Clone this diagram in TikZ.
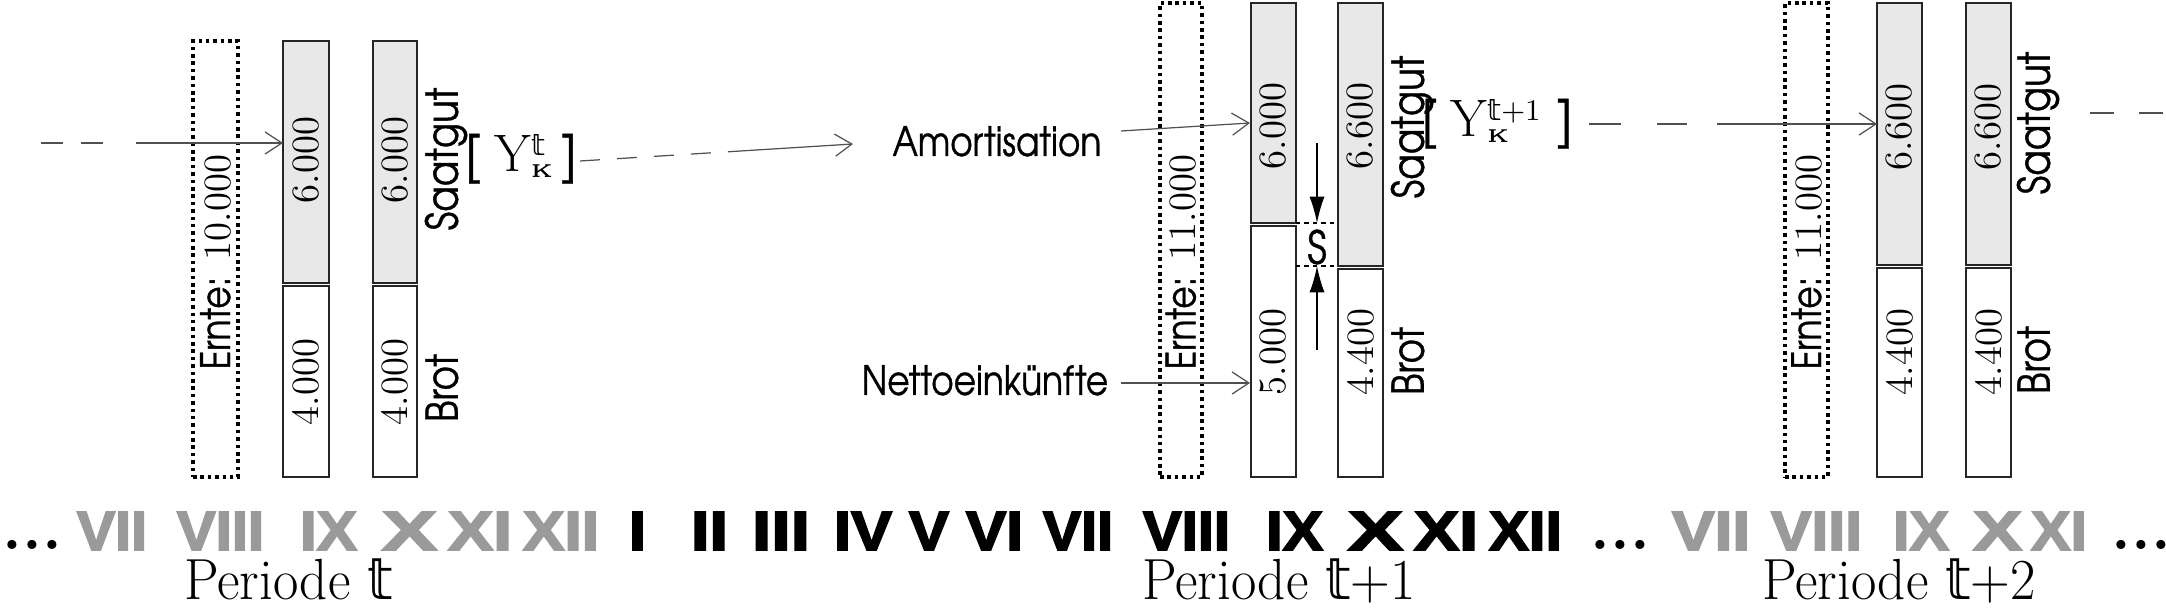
\documentclass[tikz,border=0pt]{standalone}
\usepackage{fontspec}
\usepackage{graphicx}
\usetikzlibrary{arrows.meta}
\newfontfamily\gothic{TeX Gyre Adventor}[FakeStretch=0.85, FakeBold=0.8]
\newfontfamily\dsfont{DejaVu Sans}
\newfontfamily\romnumfont{Liberation Sans}[BoldFeatures={FakeBold=3}]
\definecolor{barfill}{HTML}{E8E8E8}
\definecolor{numgray}{HTML}{9A9A9A}
\definecolor{flowgray}{HTML}{505050}
\newcommand{\dt}{{\dsfont 𝕥}}
\newcommand{\sidetext}[1]{{\gothic\fontsize{12.5}{15}\selectfont\vphantom{Sg}#1}}
\newcommand{\barcell}[6]{\node[#6, inner sep=0pt, outer sep=0pt, minimum width={(#4-#2)*0.01cm}, minimum height={(#5-#3)*0.01cm}] (#1) at ({(#2+#4)/2},{(#3+#5)/2}) {};}
\newcommand{\romn}[5]{\node[inner sep=0pt, text=#5] (#1) at (#3,531) {\resizebox{#4cm}{0.38cm}{\romnumfont\bfseries #2}};}
\begin{document}
\begin{tikzpicture}[x=0.01cm,y=-0.01cm,
  seedcell/.style={draw=black!85, line width=0.55pt, fill=barfill},
  breadcell/.style={draw=black!85, line width=0.55pt, fill=white},
  harvest/.style={draw=black, line width=1pt, dash pattern=on 1pt off 1.1pt},
  amount/.style={rotate=90, inner sep=0pt, font=\fontsize{11}{13}\selectfont},
  sidelab/.style={rotate=90, inner sep=0pt, font=\fontsize{11}{13}\selectfont},
  sanslab/.style={inner sep=0pt, anchor=base, font=\gothic\fontsize{11.5}{13}\selectfont},
  flow/.style={draw=flowgray, line width=0.35pt, -{Straight Barb[length=4.8pt,width=6.3pt]}},
  flowtail/.style={draw=flowgray, line width=0.35pt},
  sflow/.style={draw=black, line width=0.4pt, -{Latex[length=7.5pt,width=4.3pt]}},
  sline/.style={draw=black, line width=0.4pt, dash pattern=on 1.2pt off 1.2pt},
  periodlab/.style={inner sep=0pt, anchor=base, font=\fontsize{16.5}{19}\selectfont},
  dotrow/.style={inner sep=0pt, anchor=base west, font=\fontsize{18}{20}\selectfont\bfseries},
]
\useasboundingbox (0,0) rectangle (2166,610);

% ---------- harvest boxes ----------
\barcell{E1}{193}{41}{238}{477}{harvest}
\barcell{E2}{1160}{3}{1202}{477}{harvest}
\barcell{E3}{1785}{3}{1828}{477}{harvest}
\node[amount] (E1lab) at (215.5,262) {{\gothic\fontsize{11.5}{13}\selectfont Ernte:} 10.000};
\node[amount] (E2lab) at (1181,262) {{\gothic\fontsize{11.5}{13}\selectfont Ernte:} 11.000};
\node[amount] (E3lab) at (1806.5,262) {{\gothic\fontsize{11.5}{13}\selectfont Ernte:} 11.000};

% ---------- bars period t ----------
\barcell{a1}{283}{41}{329}{283}{seedcell}
\barcell{a2}{283}{286}{329}{477}{breadcell}
\barcell{b1}{373}{41}{417}{283}{seedcell}
\barcell{b2}{373}{286}{417}{477}{breadcell}
% ---------- bars period t+1 ----------
\barcell{c1}{1251}{3}{1296}{223}{seedcell}
\barcell{c2}{1251}{226}{1296}{477}{breadcell}
\barcell{d1}{1338}{3}{1383}{266}{seedcell}
\barcell{d2}{1338}{269}{1383}{477}{breadcell}
% ---------- bars period t+2 ----------
\barcell{e1}{1877}{3}{1922}{265}{seedcell}
\barcell{e2}{1877}{268}{1922}{477}{breadcell}
\barcell{f1}{1966}{3}{2011}{265}{seedcell}
\barcell{f2}{1966}{268}{2011}{477}{breadcell}

% amounts
\node[amount] (a1lab) at (306,160) {6.000};
\node[amount] (a2lab) at (306,382) {4.000};
\node[amount] (b1lab) at (395,160) {6.000};
\node[amount] (b2lab) at (395,382) {4.000};
\node[amount] (c1lab) at (1273.5,126) {6.000};
\node[amount] (c2lab) at (1273.5,352) {5.000};
\node[amount] (d1lab) at (1360.5,126) {6.600};
\node[amount] (d2lab) at (1360.5,352) {4.400};
\node[amount] (e1lab) at (1899.5,127) {6.600};
\node[amount] (e2lab) at (1899.5,352) {4.400};
\node[amount] (f1lab) at (1988.5,127) {6.600};
\node[amount] (f2lab) at (1988.5,352) {4.400};

% side labels
\node[sidelab] (saat1) at (446,159) {\sidetext{Saatgut}};
\node[sidelab] (brot1) at (446,388) {\sidetext{Brot}};
\node[sidelab] (saat2) at (1412,127) {\sidetext{Saatgut}};
\node[sidelab] (brot2) at (1412,361) {\sidetext{Brot}};
\node[sidelab] (saat3) at (2038,123) {\sidetext{Saatgut}};
\node[sidelab] (brot3) at (2038,360) {\sidetext{Brot}};

% capital stock labels
\node[inner sep=0pt, anchor=base] (Yt) at (521,172) {\fontsize{15}{17}\selectfont\gothic[\hspace{0.25em}\rmfamily Y\rlap{\raisebox{-1.5pt}{\fontsize{5.3}{6}\selectfont\bfseries K}}\raisebox{4.8pt}{\fontsize{8.5}{9}\selectfont\dt}\hspace{0.3em}\gothic]};
\node[inner sep=0pt, anchor=base] (Yt1) at (1497,137) {\fontsize{15}{17}\selectfont\gothic[\hspace{0.25em}\rmfamily Y\rlap{\raisebox{-1.5pt}{\fontsize{5.3}{6}\selectfont\bfseries K}}\raisebox{4.8pt}{\fontsize{8.5}{9}\selectfont\dt\rmfamily+1}\hspace{0.3em}\gothic]};

% text labels
\node[sanslab] (amort) at (997,156) {Amortisation};
\node[sanslab] (netto) at (985,395) {Nettoeinkünfte};
\node[inner sep=0pt] (S) at (1317,247) {\gothic\fontsize{13}{15}\selectfont S};

% S box lines
\draw[sline] (c1.south east) -- (d1.west |- c1.south east);
\draw[sline] (c2.east |- d1.south west) -- (d1.south west);

% flows
\coordinate (L0) at (41,143);
\draw[flow, dash pattern=on 0.22cm off 0.18cm on 0.22cm off 0.33cm on 4cm] (L0) -- (L0 -| a1.west);
\coordinate (Y0) at (580,161);
\coordinate (Y1) at (853,144);
\draw[flow, dash pattern=on 0.2cm off 0.17cm on 0.2cm off 0.17cm on 0.2cm off 0.17cm on 0.2cm off 0.17cm on 4cm] (Y0) -- (Y1);
\coordinate (A0) at (1121,131);
\coordinate (A1) at (1250,123);
\draw[flow] (A0) -- (A1);
\coordinate (N0) at (1121,383);
\coordinate (N1) at (1250,383);
\draw[flow] (N0) -- (N1);
\coordinate (Z0) at (1589,124);
\draw[flow, dash pattern=on 0.32cm off 0.36cm on 0.3cm off 0.3cm on 4cm] (Z0) -- (Z0 -| e1.west);
\coordinate (R0) at (2090,113);
\coordinate (R1) at (2166,113);
\draw[flowtail, dash pattern=on 0.24cm off 0.25cm] (R0) -- (R1);
\coordinate (SD0) at (1317,143);
\coordinate (SU0) at (1317,350);
\draw[sflow] (SD0) -- (SD0 |- c1.south east);
\draw[sflow] (SU0) -- (SU0 |- d1.south west);

% ---------- month row ----------
\node[dotrow] (dotsA) at (2,550) {...};
\romn{gA}{VII}{112}{0.70}{numgray}
\romn{gB}{VIII}{220.5}{0.87}{numgray}
\romn{gC}{IX}{328.5}{0.57}{numgray}
\romn{gD}{X}{409.5}{0.55}{numgray}
\romn{gE}{XI}{480}{0.64}{numgray}
\romn{gF}{XII}{561}{0.76}{numgray}
\romn{kA}{I}{637.5}{0.17}{black}
\romn{kB}{II}{709.5}{0.37}{black}
\romn{kC}{III}{781}{0.58}{black}
\romn{kD}{IV}{863}{0.58}{black}
\romn{kE}{V}{929}{0.40}{black}
\romn{kF}{VI}{994.5}{0.57}{black}
\romn{kG}{VII}{1078}{0.70}{black}
\romn{kH}{VIII}{1186.5}{0.87}{black}
\romn{kI}{IX}{1294.5}{0.57}{black}
\romn{kJ}{X}{1375.5}{0.55}{black}
\romn{kK}{XI}{1446}{0.64}{black}
\romn{kL}{XII}{1525.5}{0.73}{black}
\node[dotrow] (dotsB) at (1590,550) {...};
\romn{hA}{VII}{1711}{0.78}{numgray}
\romn{hB}{VIII}{1816.5}{0.91}{numgray}
\romn{hC}{IX}{1921}{0.56}{numgray}
\romn{hD}{X}{1997.5}{0.49}{numgray}
\romn{hE}{XI}{2059}{0.56}{numgray}
\node[dotrow] (dotsC) at (2111,550) {...};

% period labels
\node[periodlab] (P1) at (288.5,600) {\scalebox{0.95}[1]{Periode \dt}};
\node[periodlab] (P2) at (1279,600) {\scalebox{0.95}[1]{Periode \dt+1}};
\node[periodlab] (P3) at (1899,600) {\scalebox{0.95}[1]{Periode \dt+2}};
\end{tikzpicture}
\end{document}
